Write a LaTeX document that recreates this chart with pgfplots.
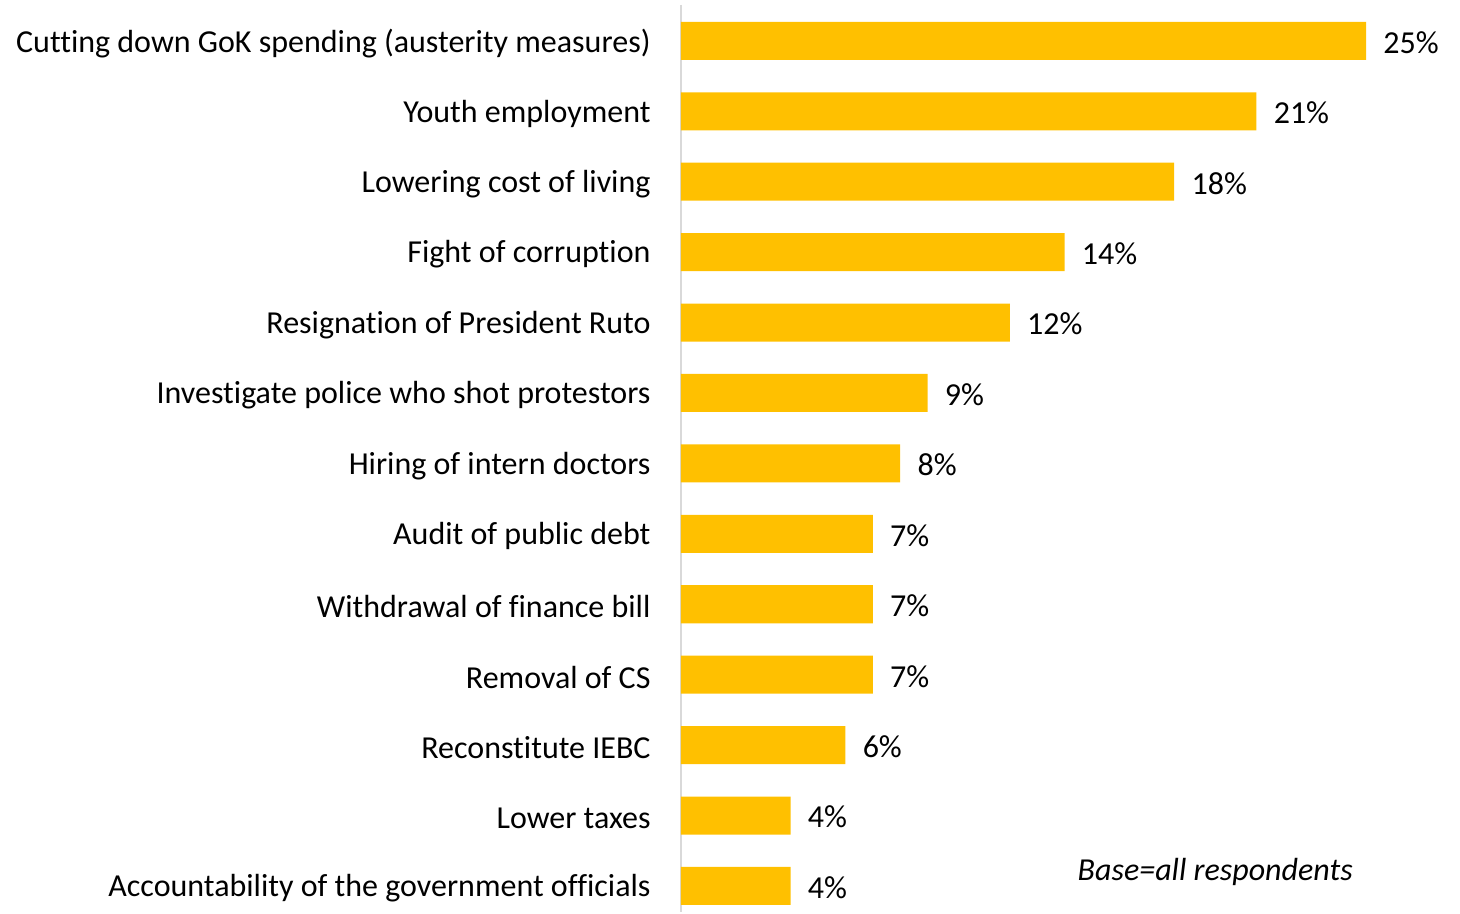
\documentclass[border=0pt]{standalone}
\usepackage{pgfplots}
\usepackage{pgfplotstable}
\pgfplotsset{compat=1.18}
\usepackage{fontspec}
\setmainfont{Carlito}[Ligatures=NoCommon]
\definecolor{bargold}{HTML}{FFC000}
\definecolor{axisgray}{HTML}{D9D9D9}

\pgfplotstableread{
idx val
0 25
1 21
2 18
3 14
4 12
5 9
6 8
7 7
8 7
9 7
10 6
11 4
12 4
}\demands

\begin{document}
\begin{tikzpicture}[font=\fontsize{16}{19}\selectfont]
\begin{axis}[
  scale only axis,
  width=342.5pt, height=453.5pt,
  xbar, bar width=0.54,
  xmin=0, xmax=25,
  ymin=-0.51, ymax=12.37,
  y dir=reverse,
  axis x line=none,
  axis y line=left,
  axis line style={-, axisgray, line width=1pt},
  ytick={0,...,12},
  yticklabels={
    {Cutting down GoK spending (austerity measures)},
    {Youth employment},
    {Lowering cost of living},
    {Fight of corruption},
    {Resignation of President Ruto},
    {Investigate police who shot protestors},
    {Hiring of intern doctors},
    {Audit of public debt},
    {Withdrawal of finance bill},
    {Removal of CS},
    {Reconstitute IEBC},
    {Lower taxes},
    {Accountability of the government officials}},
  major tick length=0pt,
  yticklabel style={inner sep=0pt, anchor=east, xshift=-15pt, yshift=-1.2pt, text=black},
  point meta=x,
  /pgf/number format/assume math mode=true,
  nodes near coords={\pgfmathprintnumber{\pgfplotspointmeta}\%},
  nodes near coords style={anchor=west, inner sep=0pt, xshift=8.5pt, yshift=-0.8pt, text=black},
  clip=false,
]
\addplot[fill=bargold, draw=none] table[x=val, y=idx] {\demands};
\path (axis cs:-24.85,-0.58) rectangle (axis cs:28.43,12.37);
\node[anchor=east, inner sep=0pt, font=\fontsize{16}{19}\selectfont\itshape] at (axis cs:24.53,11.8) {Base=all respondents};
\end{axis}
\end{tikzpicture}
\end{document}
